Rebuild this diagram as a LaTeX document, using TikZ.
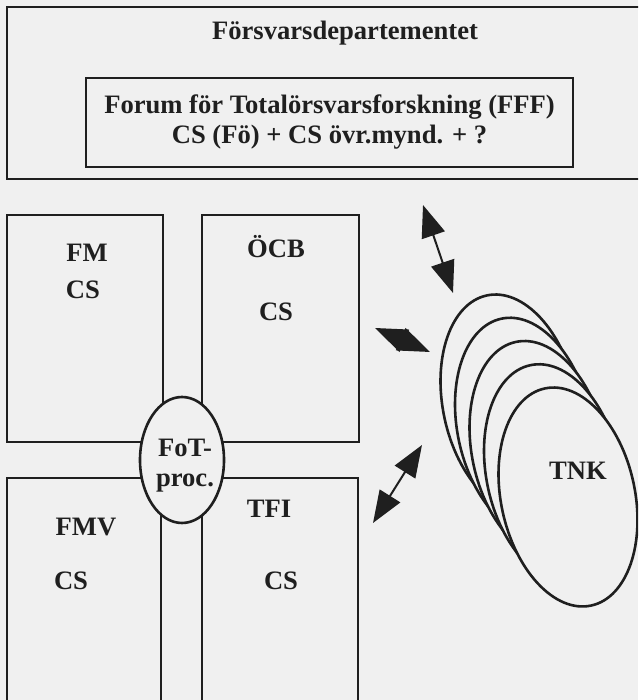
\documentclass[tikz,border=0pt]{standalone}
\usepackage{fontspec}
\setmainfont{Liberation Serif}
\usetikzlibrary{arrows.meta,shapes.geometric}
\definecolor{paper}{gray}{0.94}
\definecolor{ink}{gray}{0.12}

\begin{document}
\begin{tikzpicture}[x=5pt, y=5pt, ink,
        font=\fontsize{13.3pt}{15pt}\selectfont\bfseries,
        box/.style={rectangle, draw, line width=1.1pt, inner sep=0pt},
        oval/.style={ellipse, draw, line width=1.3pt, fill=paper, inner sep=0pt},
        link/.style={>={Triangle[length=16pt,width=12pt]}, <->, line width=1pt}]
                \clip (0,0) rectangle (63.8,70);
                \fill[paper] (0,0) rectangle (63.8,70);

                \node[box, minimum width=338pt, minimum height=86pt] (dept) at (34.5,60.7) {};
                \node (deptname) at (34.5,66.7) {Försvarsdepartementet};
                \node[box, align=center, minimum width=243.5pt, minimum height=44.5pt] (fff) at (32.95,57.75)
                    {Forum för Totalörsvarsforskning (FFF)\\CS (Fö) + CS övr.mynd. + ?};

                \node[box, minimum width=78pt, minimum height=113.5pt] (fm) at (8.5,37.15) {};
                \node[box, minimum width=78.5pt, minimum height=113.5pt] (ocb) at (28.05,37.15) {};
                \node[box, minimum width=77pt, minimum height=121pt] (fmv) at (8.4,10.1) {};
                \node[box, minimum width=78pt, minimum height=121pt] (tfi) at (28.0,10.1) {};

                \node at (8.7,44.7) (fmname) {FM};
                \node at (8.3,41.0) (fmcs) {CS};
                \node at (27.6,45.3) (ocbname) {ÖCB};
                \node at (27.6,38.8) (ocbcs) {CS};
                \node at (8.6,17.3) (fmvname) {FMV};
                \node at (7.1,11.9) (fmvcs) {CS};
                \node at (26.9,19.1) (tfiname) {TFI};
                \node at (28.1,11.9) (tfics) {CS};

                \node[oval, minimum width=42pt, minimum height=63pt] (fot) at (18.2,24.0) {};
                \node[align=center] (fotname) at (18.5,23.4) {FoT-\\proc.};

                \coordinate (up1) at (42.3,49.5);
                \coordinate (up2) at (45.3,40.7);
                \coordinate (mid1) at (37.5,37.2);
                \coordinate (mid2) at (43.0,34.8);
                \coordinate (low1) at (42.2,25.5);
                \coordinate (low2) at (37.3,17.7);
                \draw[link] (up1) -- (up2);
                \draw[link] (mid1) -- (mid2);
                \draw[link] (low1) -- (low2);

                \foreach \i in {0,...,4}
                    \node[oval, minimum width=67pt, minimum height=111pt, rotate=12] (tnk\i)
                        at ({51.0+1.45*\i},{29.6-2.325*\i}) {};
                \node (tnkname) at (57.8,22.9) {TNK};
\end{tikzpicture}
\end{document}
